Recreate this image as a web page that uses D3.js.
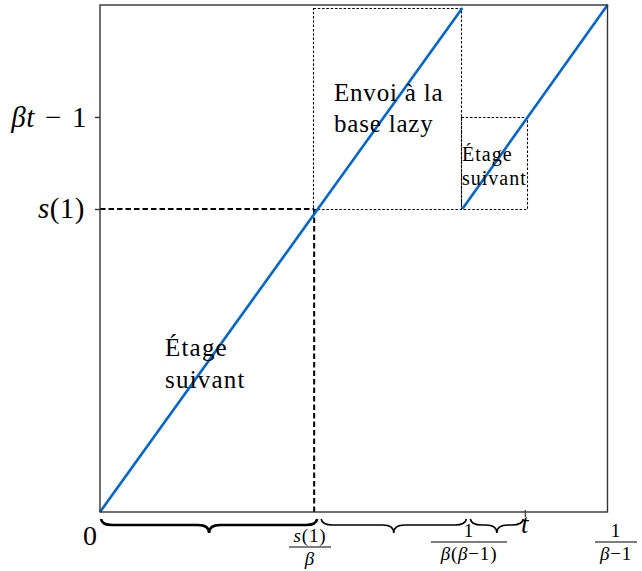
<!DOCTYPE html>
<html><head><meta charset="utf-8">
<script src="https://cdn.jsdelivr.net/npm/d3@7"></script>
<style>body{margin:0;background:#fff}svg{display:block}text{font-family:"Liberation Serif","Times New Roman",serif;fill:#000}</style>
</head><body><svg id="c" width="642" height="571"></svg>
<script>
// Data (abstract units; beta ~ 1.4, x max = 1/(beta-1))
const xDomain = [0, 2.5];
const yDomain = [0, 2.5];
const xKeys = ["zero", "s1beta", "invBetaBeta1", "t", "invBeta1"];
const xVals = [0, 1.055, 1.785, 2.095, 2.5];
const yKeys = ["s1", "betaT1"];
const yVals = [1.494, 1.948];
const line1X = [0, 1.785];
const line1Y = [0, 2.485];
const line2X = [1.785, 2.5];
const line2Y = [1.494, 2.5];
const boxLabels = [["Envoi à la", "base lazy"], ["Étage", "suivant"], ["Étage", "suivant"]];

const X = Object.fromEntries(xKeys.map((k, i) => [k, xVals[i]]));
const Y = Object.fromEntries(yKeys.map((k, i) => [k, yVals[i]]));

const svg = d3.select("#c");
const x = d3.scaleLinear().domain(xDomain).range([100, 607.5]);
const y = d3.scaleLinear().domain(yDomain).range([512, 5]);

// dotted boxes
const boxes = [
  {x0: X.s1beta, x1: X.invBetaBeta1, y0: Y.s1, y1: line1Y[1], pad: 0},
  {x0: X.invBetaBeta1, x1: X.t, y0: Y.s1, y1: Y.betaT1, pad: 3}
];
svg.selectAll("rect.box").data(boxes).enter().append("rect")
  .attr("x", d => Math.round(x(d.x0)) - 0.5).attr("y", d => Math.round(y(d.y1)) + 0.5)
  .attr("width", d => Math.round(x(d.x1) - x(d.x0)) + d.pad).attr("height", d => Math.round(y(d.y0) - y(d.y1)))
  .attr("fill", "none").attr("stroke", "#000").attr("stroke-width", 1.1)
  .attr("stroke-dasharray", "2.5,1.8");

// dashed guides
svg.append("line").attr("x1", x(0)).attr("x2", x(X.s1beta)).attr("y1", y(Y.s1)).attr("y2", y(Y.s1))
  .attr("stroke", "#000").attr("stroke-width", 2).attr("stroke-dasharray", "5.5,3");
svg.append("line").attr("x1", x(X.s1beta)).attr("x2", x(X.s1beta)).attr("y1", y(Y.s1)).attr("y2", y(0))
  .attr("stroke", "#000").attr("stroke-width", 2).attr("stroke-dasharray", "5.5,3");

// blue lines
const lineGen = d3.line().x(d => x(d[0])).y(d => y(d[1]));
[[line1X, line1Y], [line2X, line2Y]].forEach(([xs, ys]) => {
  svg.append("path").datum(xs.map((v, i) => [v, ys[i]])).attr("d", lineGen)
    .attr("fill", "none").attr("stroke", "#0066cc").attr("stroke-width", 2.6);
});

// frame
svg.append("rect").attr("x", x(0)).attr("y", y(yDomain[1])).attr("width", x(xDomain[1]) - x(0))
  .attr("height", y(0) - y(yDomain[1])).attr("fill", "none").attr("stroke", "#333").attr("stroke-width", 1.4);

// y ticks
const yAxis = d3.axisLeft(y).tickValues(yVals).tickSize(5).tickFormat("");
const gy = svg.append("g").attr("transform", `translate(${x(0)},0)`).call(yAxis);
gy.select(".domain").remove();
gy.selectAll("line").attr("stroke", "#333").attr("stroke-width", 1.4);

// t tick
svg.append("line").attr("x1", x(X.t)).attr("x2", x(X.t)).attr("y1", y(0) - 2).attr("y2", y(0) + 5)
  .attr("stroke", "#333").attr("stroke-width", 1.2);

function addParts(sel, parts) {
  parts.forEach(p => sel.append("tspan").attr("font-style", p[1] ? "italic" : "normal").text(p[0]));
  return sel;
}
function mathText(sel, parts, size) {
  addParts(sel, parts);
  sel.attr("font-size", size);
  return sel;
}
// y labels
mathText(svg.append("text").attr("x", 87).attr("y", y(Y.betaT1) + 10).attr("text-anchor", "end"),
  [["β", true], ["t", true], ["\u2004−\u20041", false]], 29).attr("letter-spacing", 0.5);
mathText(svg.append("text").attr("x", 85).attr("y", y(Y.s1) + 9).attr("text-anchor", "end"),
  [["s", true], ["(1)", false]], 29).attr("letter-spacing", 0.5);

// x labels
svg.append("text").attr("x", 90).attr("y", 545).attr("text-anchor", "middle").attr("font-size", 28).text("0");
mathText(svg.append("text").attr("x", x(X.t) - 0.5).attr("y", 533).attr("text-anchor", "middle"), [["t", true]], 27);

// fractions
function fraction(cx, yBar, num, den, size, halfW, numOff, denOff) {
  const g = svg.append("g");
  mathText(g.append("text").attr("x", cx).attr("y", yBar - numOff).attr("text-anchor", "middle"), num, size).attr("letter-spacing", 0.8);
  g.append("line").attr("x1", cx - halfW).attr("x2", cx + halfW).attr("y1", yBar).attr("y2", yBar)
    .attr("stroke", "#000").attr("stroke-width", 1);
  mathText(g.append("text").attr("x", cx).attr("y", yBar + denOff).attr("text-anchor", "middle"), den, size).attr("letter-spacing", 0.8);
}
fraction(310, 547, [["s", true], ["(1)", false]], [["β", true]], 19, 21, 5, 18);
fraction(469, 542, [["1", false]], [["β", true], ["(", false], ["β", true], ["−1)", false]], 19, 38, 5, 18);
fraction(616, 542, [["1", false]], [["β", true], ["−1", false]], 19, 21, 5, 18);

// braces
function brace(x1, x2, yTop, h) {
  const m = (x1 + x2) / 2, hh = h / 2 - 1, r = Math.min(h * 0.8, (x2 - x1) / 4);
  const p = d3.path();
  p.moveTo(x1, yTop);
  p.quadraticCurveTo(x1 + 1, yTop + hh, x1 + r, yTop + hh);
  p.lineTo(m - r, yTop + hh);
  p.quadraticCurveTo(m, yTop + hh, m, yTop + h);
  p.quadraticCurveTo(m, yTop + hh, m + r, yTop + hh);
  p.lineTo(x2 - r, yTop + hh);
  p.quadraticCurveTo(x2 - 1, yTop + hh, x2, yTop);
  return p.toString();
}
const braceSpans = [[X.zero, X.s1beta, 2.6, 1, 3], [X.s1beta, X.invBetaBeta1, 1.6, 7, 4], [X.invBetaBeta1, X.t, 1.6, 8, -2]];
braceSpans.forEach(([a, b, w, o1, o2]) => {
  svg.append("path").attr("d", brace(x(a) + o1, x(b) + o2, 519, 14))
    .attr("fill", "none").attr("stroke", "#000").attr("stroke-width", w);
});

// region labels
const labelPos = [[334, 101, 25, 0.8, 31], [165, 356, 25, 1.2, 32], [462, 161, 20, 1.0, 24]];
boxLabels.forEach((lines, i) => {
  const [lx, ly, fs, ls, lh] = labelPos[i];
  const t = svg.append("text").attr("x", lx).attr("y", ly).attr("font-size", fs).attr("letter-spacing", ls);
  lines.forEach((s, j) => t.append("tspan").attr("x", lx).attr("dy", j === 0 ? 0 : lh).text(s));
});
</script></body></html>
